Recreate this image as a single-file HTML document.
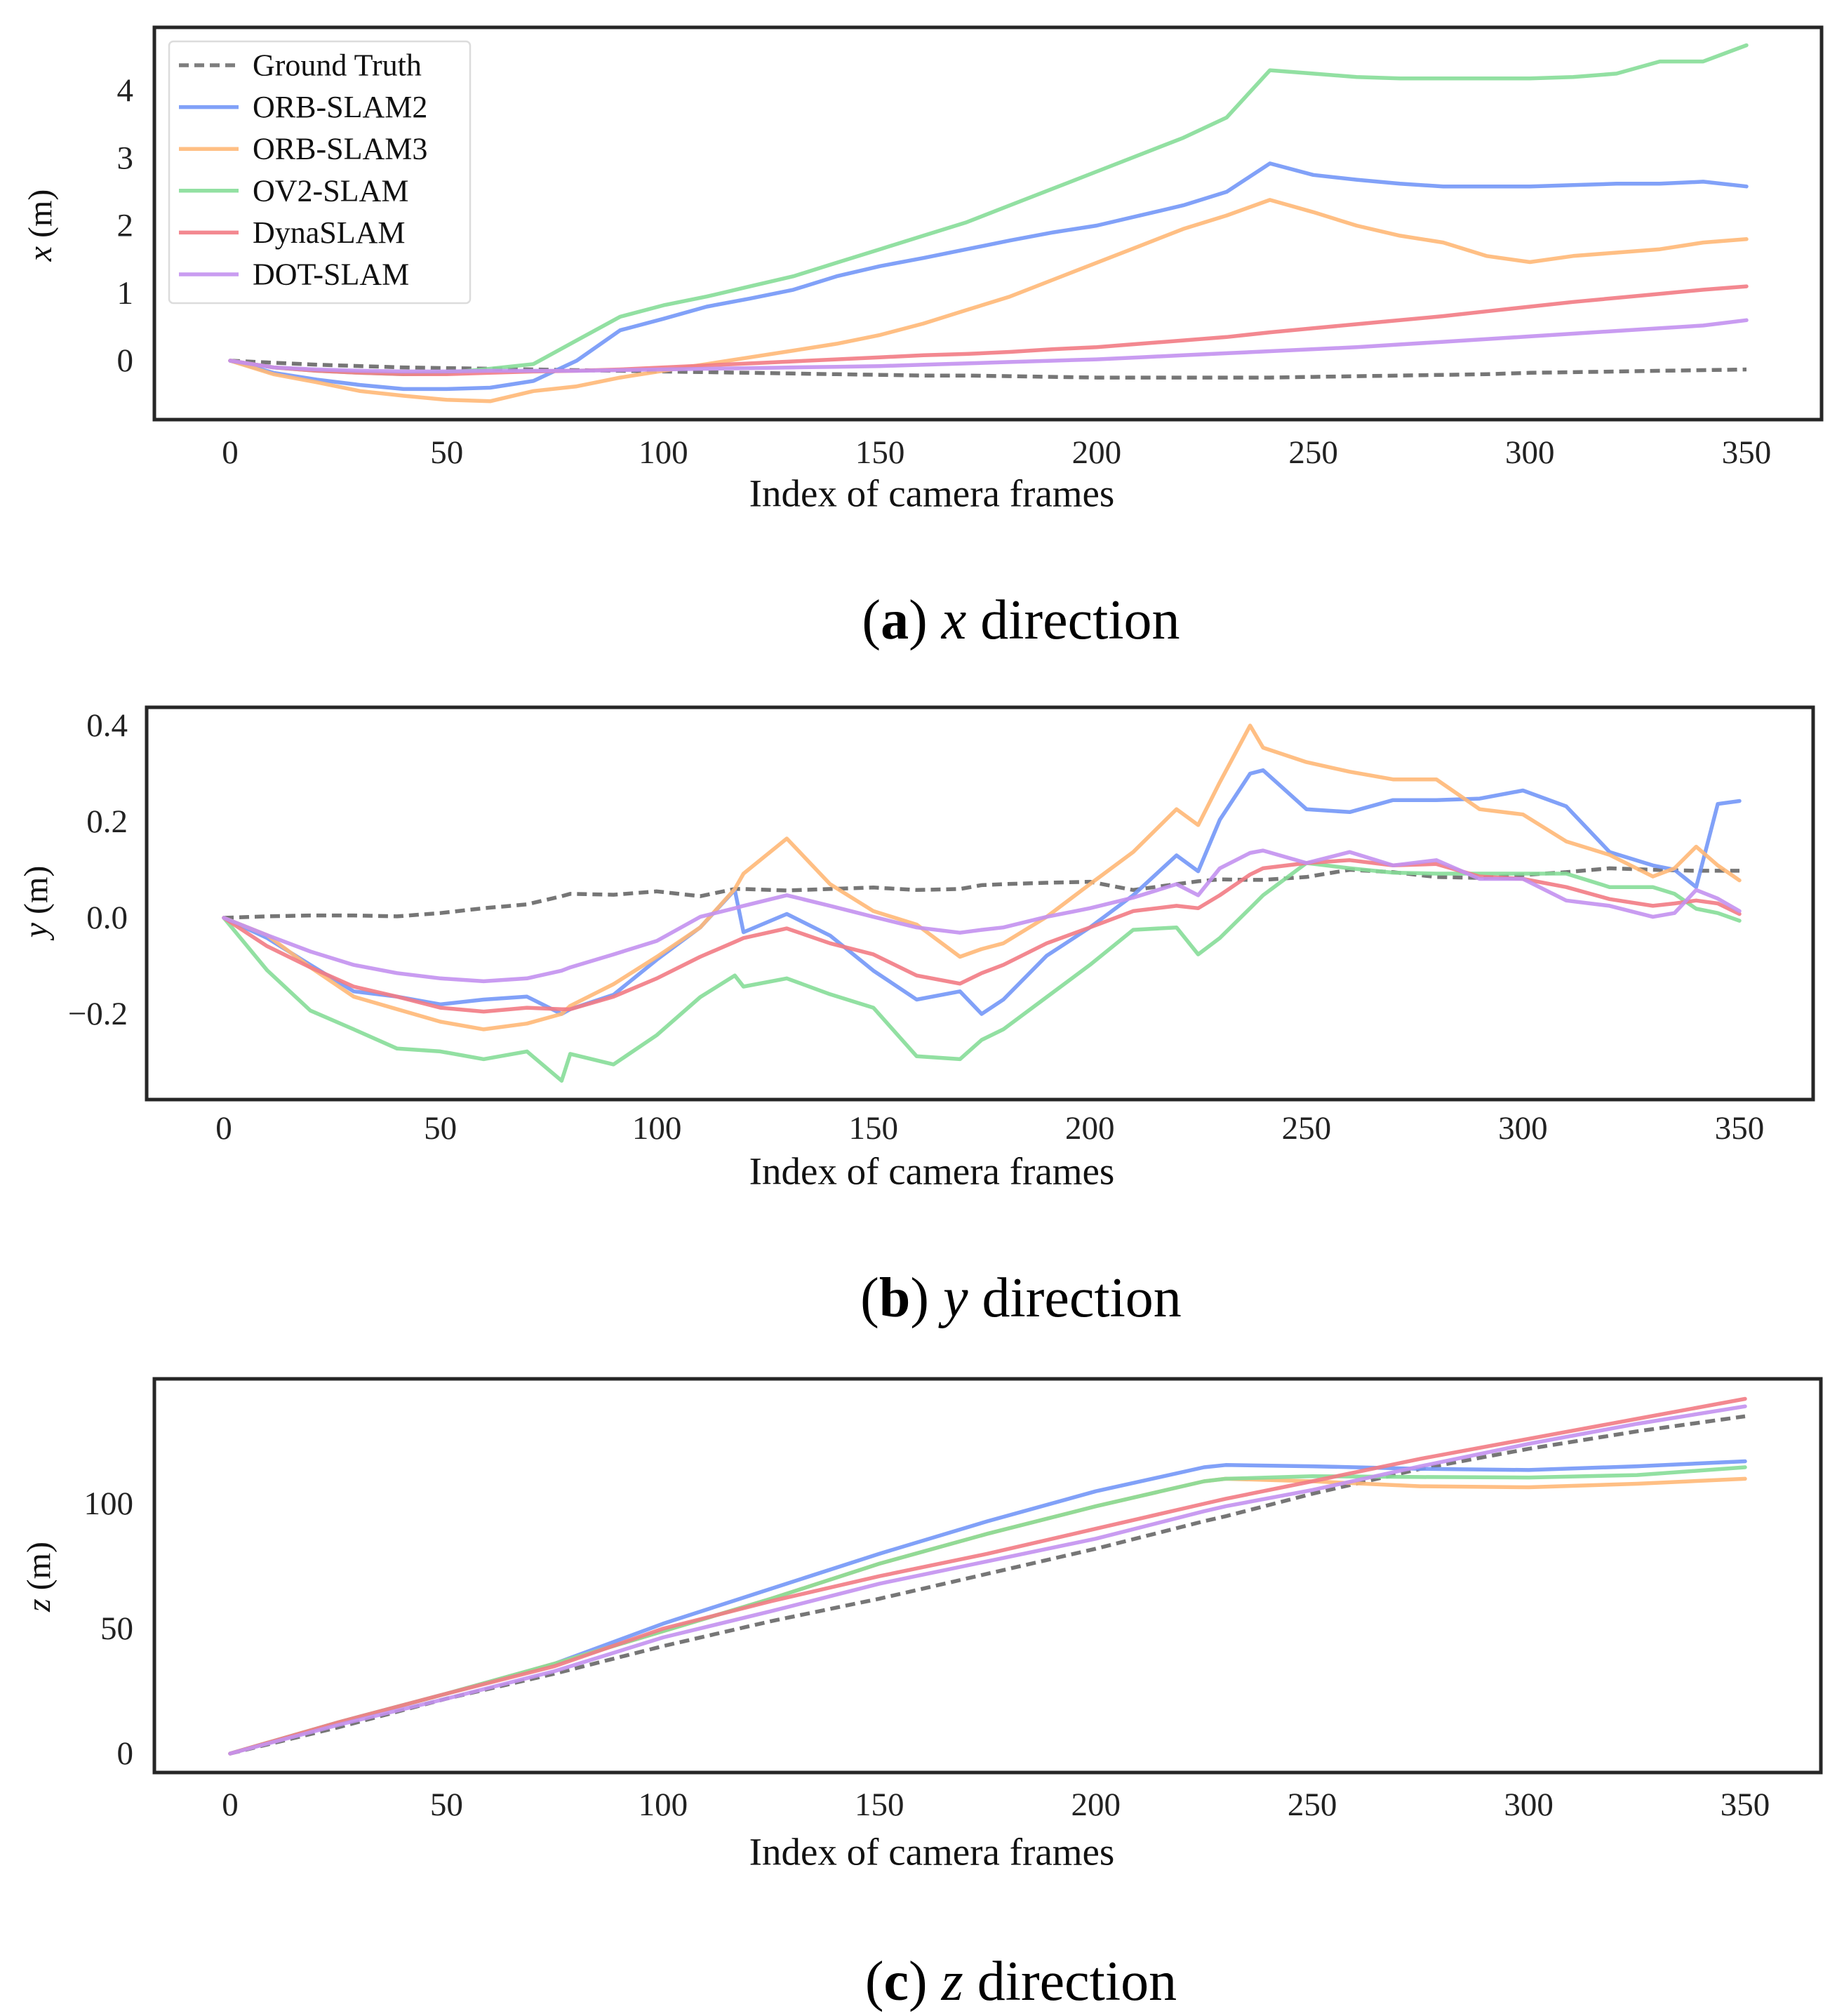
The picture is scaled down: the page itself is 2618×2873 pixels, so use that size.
<!DOCTYPE html>
<html><head><meta charset="utf-8"><style>
html,body{margin:0;padding:0;background:#fff;}
svg{display:block;font-family:"Liberation Serif","DejaVu Serif",serif;}
</style></head><body>
<svg id="fig" width="2618" height="2873" viewBox="0 0 2618 2873" xmlns="http://www.w3.org/2000/svg">
<rect x="0" y="0" width="2618" height="2873" fill="#fff"/>
</svg>
<script>
// ---------- data ----------
const framesA = [0,10,20,30,40,50,60,70,80,90,100,110,120,130,140,150,160,170,180,190,200,210,220,230,240,250,260,270,280,290,300,310,320,330,340,350];
const xGT   = [0,-0.03,-0.06,-0.08,-0.1,-0.11,-0.12,-0.13,-0.14,-0.15,-0.16,-0.17,-0.18,-0.19,-0.2,-0.21,-0.22,-0.22,-0.23,-0.24,-0.25,-0.25,-0.25,-0.25,-0.25,-0.24,-0.23,-0.22,-0.21,-0.2,-0.18,-0.17,-0.16,-0.15,-0.14,-0.13];
const xORB2 = [0,-0.18,-0.28,-0.36,-0.42,-0.42,-0.4,-0.3,0.0,0.45,0.62,0.8,0.92,1.05,1.25,1.4,1.52,1.65,1.78,1.9,2.0,2.15,2.3,2.5,2.92,2.75,2.68,2.62,2.58,2.58,2.58,2.6,2.62,2.62,2.65,2.58];
const xORB3 = [0,-0.2,-0.32,-0.45,-0.52,-0.58,-0.6,-0.45,-0.38,-0.25,-0.15,-0.05,0.05,0.15,0.25,0.38,0.55,0.75,0.95,1.2,1.45,1.7,1.95,2.15,2.38,2.2,2.0,1.85,1.75,1.55,1.46,1.55,1.6,1.65,1.75,1.8];
const xOV2  = [0,-0.1,-0.15,-0.18,-0.2,-0.18,-0.12,-0.05,0.3,0.65,0.82,0.95,1.1,1.25,1.45,1.65,1.85,2.05,2.3,2.55,2.8,3.05,3.3,3.6,4.3,4.25,4.2,4.18,4.18,4.18,4.18,4.2,4.25,4.43,4.43,4.67];
const xDyna = [0,-0.1,-0.15,-0.18,-0.2,-0.2,-0.18,-0.16,-0.15,-0.13,-0.1,-0.07,-0.04,-0.01,0.02,0.05,0.08,0.1,0.13,0.17,0.2,0.25,0.3,0.35,0.42,0.48,0.54,0.6,0.66,0.73,0.8,0.87,0.93,0.99,1.05,1.1];
const xDOT  = [0,-0.1,-0.13,-0.15,-0.16,-0.16,-0.15,-0.15,-0.15,-0.14,-0.13,-0.12,-0.11,-0.1,-0.09,-0.08,-0.06,-0.04,-0.02,0.0,0.02,0.05,0.08,0.11,0.14,0.17,0.2,0.24,0.28,0.32,0.36,0.4,0.44,0.48,0.52,0.6];

const framesB = [0,10,20,30,40,50,60,70,78,80,90,100,110,118,120,130,140,150,160,170,175,180,190,200,210,220,225,230,237,240,250,260,270,280,290,300,310,320,330,335,340,345,350];
const yGT   = [0,0.003,0.005,0.005,0.003,0.01,0.02,0.028,0.045,0.05,0.048,0.055,0.045,0.06,0.06,0.057,0.06,0.063,0.058,0.06,0.068,0.07,0.073,0.075,0.058,0.07,0.076,0.08,0.079,0.079,0.085,0.1,0.095,0.085,0.083,0.089,0.095,0.103,0.1,0.099,0.098,0.098,0.098];
const yORB2 = [0,-0.042,-0.098,-0.153,-0.164,-0.18,-0.17,-0.164,-0.2,-0.19,-0.16,-0.087,-0.02,0.058,-0.03,0.008,-0.037,-0.11,-0.17,-0.153,-0.2,-0.17,-0.079,-0.02,0.047,0.13,0.097,0.204,0.3,0.307,0.226,0.22,0.245,0.245,0.248,0.265,0.232,0.137,0.109,0.1,0.064,0.237,0.243];
const yORB3 = [0,-0.036,-0.103,-0.164,-0.19,-0.216,-0.232,-0.22,-0.2,-0.183,-0.138,-0.081,-0.02,0.06,0.092,0.165,0.07,0.014,-0.014,-0.081,-0.065,-0.053,0.002,0.07,0.137,0.226,0.193,0.282,0.4,0.354,0.324,0.304,0.288,0.288,0.226,0.215,0.159,0.131,0.086,0.103,0.148,0.109,0.078];
const yOV2  = [0,-0.109,-0.193,-0.232,-0.272,-0.278,-0.294,-0.278,-0.339,-0.283,-0.305,-0.244,-0.165,-0.12,-0.143,-0.126,-0.159,-0.187,-0.288,-0.294,-0.254,-0.232,-0.165,-0.098,-0.025,-0.02,-0.076,-0.042,0.02,0.047,0.114,0.103,0.094,0.092,0.092,0.092,0.092,0.064,0.064,0.05,0.019,0.01,-0.006];
const yDyna = [0,-0.059,-0.103,-0.143,-0.164,-0.187,-0.195,-0.187,-0.19,-0.19,-0.164,-0.126,-0.081,-0.05,-0.042,-0.022,-0.053,-0.076,-0.12,-0.137,-0.115,-0.098,-0.053,-0.02,0.014,0.025,0.02,0.047,0.09,0.103,0.114,0.12,0.109,0.112,0.086,0.081,0.064,0.039,0.025,0.03,0.036,0.03,0.008];
const yDOT  = [0,-0.036,-0.07,-0.098,-0.115,-0.126,-0.132,-0.126,-0.11,-0.103,-0.076,-0.048,0.002,0.02,0.025,0.047,0.025,0.002,-0.02,-0.031,-0.025,-0.02,0.002,0.02,0.042,0.07,0.047,0.103,0.135,0.14,0.114,0.137,0.109,0.12,0.081,0.081,0.036,0.025,0.002,0.01,0.058,0.04,0.014];

const framesC = [0,25,50,75,100,125,150,175,200,225,230,250,275,300,325,350];
const zGT   = [0,10.5,22,32,43,53,62,72,82,93,95,104,114,122,129,135];
const zORB2 = [0,12.5,24,36,52,66,80,93,105,114.6,115.5,115,114,113.5,115,117];
const zORB3 = [0,12.5,24,36,49,62,76,88,99,109,110,109,107,106.6,108,110];
const zOV2  = [0,12.5,24,36,49,62,76,88,99,109,110,111,110.7,110.5,111.5,114.6];
const zDyna = [0,12.5,24,35,50,61,71,80,90,100,102,109,118,126,134,142];
const zDOT  = [0,11.5,22,33,46.5,57,68,77,86,97,99,105.5,115,124,132,139];

const xTicks = [0,50,100,150,200,250,300,350];
const aTicks = [0,1,2,3,4];
const bTicks = [-0.2,0.0,0.2,0.4];
const bTickLabels = ["\u22120.2","0.0","0.2","0.4"];
const cTicks = [0,50,100];
const legendNames = ["Ground Truth","ORB-SLAM2","ORB-SLAM3","OV2-SLAM","DynaSLAM","DOT-SLAM"];

// ---------- rendering ----------
const NS = "http://www.w3.org/2000/svg";
const svg = document.getElementById('fig');
const colors = ["#6f6f6f","#7397f7","#ffb877","#86dd98","#f27b84","#c391f0"];
function mk(tag, attrs, parent){
  const e = document.createElementNS(NS, tag);
  for (const k in attrs) e.setAttribute(k, attrs[k]);
  (parent||svg).appendChild(e);
  return e;
}
function linScale(d0,d1,r0,r1){ return v => r0 + (v-d0)/(d1-d0)*(r1-r0); }

function panel(cfg){
  const g = mk('g',{});
  
  
  const X = linScale(0,350,cfg.x0,cfg.x350);
  const Y = linScale(cfg.v0,cfg.v1,cfg.y0,cfg.y1);
  cfg.series.forEach((vals,i)=>{
    const pts = vals.map((v,j)=>X(cfg.frames[j]).toFixed(1)+','+Y(v).toFixed(1)).join(' ');
    const pl = mk('polyline',{points:pts,fill:'none',stroke:colors[i],'stroke-width':5.5,'stroke-linejoin':'round','stroke-linecap':'round','stroke-opacity':i===0?0.95:0.9},g);
    if(i===0){ pl.setAttribute('stroke-dasharray','14 8'); pl.setAttribute('stroke-linecap','butt'); }
    
    
  });
  const fr = mk('rect',{x:cfg.L,y:cfg.T,width:cfg.R-cfg.L,height:cfg.B-cfg.T,fill:'none',stroke:'#262626','stroke-width':5},g);
  
  
  xTicks.forEach(t=>{
    const tx = mk('text',{x:X(t),y:cfg.xTickY,'text-anchor':'middle','dominant-baseline':'central','font-size':47,fill:'#222'},g);
    tx.textContent = t;
    
    
  });
  cfg.yTicks.forEach((t,i)=>{
    const ty = mk('text',{x:cfg.yTickX,y:Y(t),'text-anchor':'end','dominant-baseline':'central','font-size':47,fill:'#222'},g);
    ty.textContent = cfg.yTickLabels ? cfg.yTickLabels[i] : t;
    
    
  });
  const xt = mk('text',{x:1328,y:cfg.xTitleY,'text-anchor':'middle','dominant-baseline':'central','font-size':55,fill:'#111'},g);
  xt.textContent = 'Index of camera frames';
  
  
  const yt = mk('text',{x:cfg.yTitleX,y:cfg.yTitleY,'text-anchor':'middle','dominant-baseline':'central','font-size':48,fill:'#111',transform:'rotate(-90 '+cfg.yTitleX+' '+cfg.yTitleY+')'},g);
  const y1 = mk('tspan',{'font-style':'italic'},yt); y1.textContent = cfg.axis;
  const y2 = mk('tspan',{},yt); y2.textContent = ' (m)';
  
  
  const cap = mk('text',{x:1455,y:cfg.capY,'text-anchor':'middle','dominant-baseline':'central','font-size':80,fill:'#000'},g);
  
  
  const t1 = mk('tspan',{},cap); t1.textContent='(';
  const t2 = mk('tspan',{'font-weight':'bold'},cap); t2.textContent=cfg.letter;
  const t3 = mk('tspan',{},cap); t3.textContent=') ';
  const t4 = mk('tspan',{'font-style':'italic'},cap); t4.textContent=cfg.axis;
  const t5 = mk('tspan',{},cap); t5.textContent=' direction';
  return g;
}

panel({name:'panel-x-direction',frames:framesA,series:[xGT,xORB2,xORB3,xOV2,xDyna,xDOT],
  x0:328,x350:2489,v0:0,v1:4,y0:514,y1:129,L:220,R:2596,T:39,B:598,
  yTicks:aTicks,yTickX:190,xTickY:645,xTitleY:703,yTitleX:57,yTitleY:321,capY:884,letter:'a',axis:'x'});
panel({name:'panel-y-direction',frames:framesB,series:[yGT,yORB2,yORB3,yOV2,yDyna,yDOT],
  x0:319,x350:2479,v0:0,v1:0.4,y0:1308,y1:1034,L:209,R:2584,T:1008,B:1567,
  yTicks:bTicks,yTickLabels:bTickLabels,yTickX:182,xTickY:1608,xTitleY:1669,yTitleX:51,yTitleY:1285,capY:1850,letter:'b',axis:'y'});
panel({name:'panel-z-direction',frames:framesC,series:[zGT,zORB2,zORB3,zOV2,zDyna,zDOT],
  x0:328,x350:2487,v0:0,v1:100,y0:2499,y1:2143,L:220,R:2595,T:1965,B:2526,
  yTicks:cTicks,yTickX:190,xTickY:2572,xTitleY:2639,yTitleX:55,yTitleY:2247,capY:2824,letter:'c',axis:'z'});

const lg = mk('g',{});


const lr = mk('rect',{x:241,y:59,width:429,height:373,rx:6,fill:'#fff','fill-opacity':0.85,stroke:'#dcdcdc','stroke-width':2.5},lg);


legendNames.forEach((n,i)=>{
  const yy = 93 + i*59.6;
  const ln = mk('line',{x1:255,x2:340,y1:yy,y2:yy,stroke:colors[i],'stroke-width':5.5,'stroke-opacity':0.9},lg);
  if(i===0) ln.setAttribute('stroke-dasharray','14 8');
  
  
  const tx = mk('text',{x:360,y:yy,'dominant-baseline':'central','font-size':44,fill:'#111'},lg);
  tx.textContent = n;
  
  
});
</script>
</body></html>
